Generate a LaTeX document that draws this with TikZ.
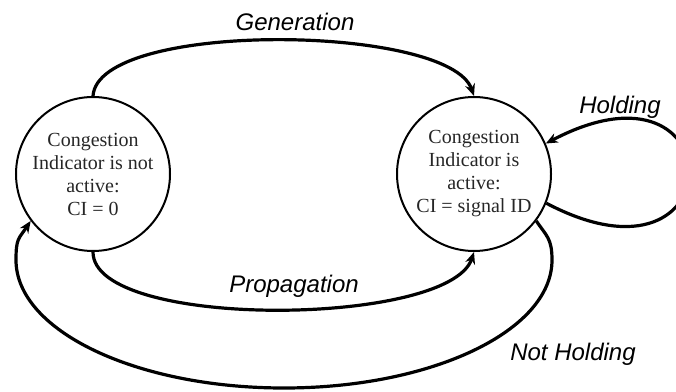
\documentclass[tikz,border=0pt]{standalone}
\usepackage{fontspec}
\setmainfont{Liberation Serif}
\setsansfont{Liberation Sans}
\usetikzlibrary{arrows.meta}

\begin{document}
\begin{tikzpicture}[x=1pt,y=1pt,
        state/.style={draw,circle,line width=2pt,minimum size=154pt,inner sep=0pt,
            align=center,text=black!85,font=\fontsize{20}{23}\selectfont},
        trans/.style={line width=3.2pt,-{Stealth[length=12pt,width=10pt]}},
        tlabel/.style={font=\sffamily\itshape\fontsize{24}{28}\selectfont,inner sep=0pt}]
        \useasboundingbox (0,0) rectangle (676,391);
        % States
        \node[state] (inactive) at (93,217) {Congestion\\Indicator is not\\active:\\CI = 0};
        \node[state] (active) at (474,217) {Congestion\\Indicator is\\active:\\CI = signal ID};
        % Transitions
        \draw[trans] (inactive.north) .. controls +(5,76) and +(-25,72) .. (active.north);
        \draw[trans] (inactive.south) .. controls +(0,-78) and +(-25,-75) .. (active.south);
        \draw[trans] (active.-22) .. controls +(190,-100) and +(190,100) .. (active.23);
        \coordinate (nhright) at (552,131);
        \draw[trans] (active.-37) .. controls +(10,-15) and +(0,22) .. (nhright)
            arc[start angle=0,end angle=-180,x radius=268,y radius=128]
            .. controls +(0,22) and +(-12,-18) .. (inactive.217);
        % Labels
        \node[tlabel] (gen) at (295,369) {Generation};
        \node[tlabel] (prop) at (294,105) {Propagation};
        \node[tlabel] (hold) at (620,284) {Holding};
        \node[tlabel] (nothold) at (573,37) {Not Holding};
    \end{tikzpicture}
\end{document}
